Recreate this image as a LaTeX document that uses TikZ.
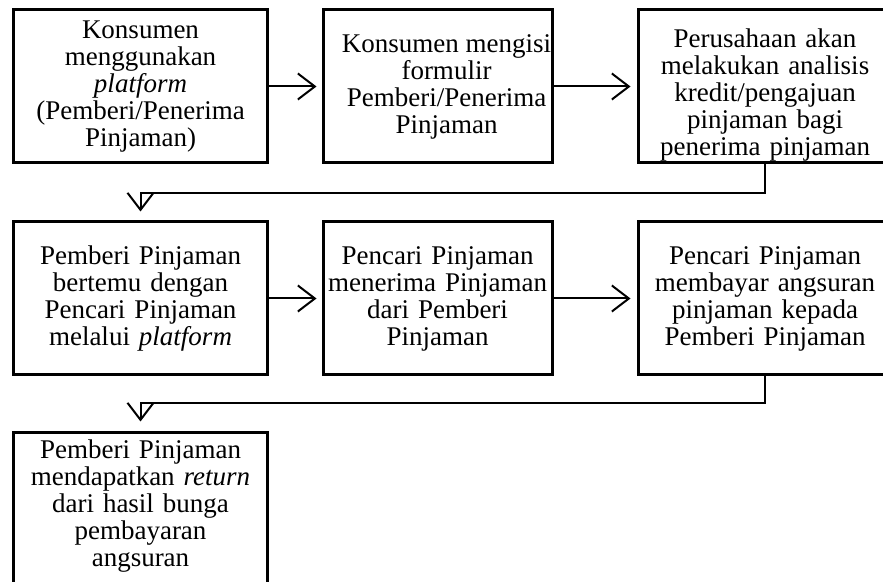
\documentclass[tikz,border=0pt]{standalone}
\usepackage{fontspec}
\setmainfont{Liberation Serif}
\usepackage{tikz}
\usetikzlibrary{positioning}
\usetikzlibrary{shapes,arrows.meta}
\tikzstyle{box} = [draw, line width=1.5pt, rectangle, inner xsep=0pt, inner ysep=0pt, align=center, minimum height=76.5pt, font=\fontsize{13.5}{13.5}\selectfont]
\tikzstyle{wide} = [box, text width=127pt]
\tikzstyle{narrow} = [box, text width=114.5pt]
\tikzstyle{line} = [draw, line width=1pt, -{Straight Barb[length=8.5pt, width=13pt, line width=1pt]}]

\begin{document}
\begin{tikzpicture}[x=0.5pt, y=-0.5pt]
\useasboundingbox (0, 0) rectangle (883, 582);
\clip (0, 0) rectangle (883, 582);
\node at (140.5, 86.5) [wide] (konsumen) {Konsumen\\ menggunakan\\ \textit{platform}\\ (Pemberi/Penerima\\ Pinjaman)};
\node at (437.5, 86.5) [box, minimum width=114.5pt] (formulir) {\hspace*{9pt}Konsumen mengisi\\ \hspace*{9pt}formulir\\ \hspace*{9pt}Pemberi/Penerima\\ \hspace*{9pt}Pinjaman};
\node at (765, 86.5) [wide, text depth=48pt] (analisis) {Perusahaan akan\\ melakukan analisis\\ kredit/pengajuan\\ pinjaman bagi\\ penerima pinjaman};
\path [line, shorten >=2.5pt] (konsumen) -- (formulir);
\path [line, shorten >=3pt] (formulir) -- (analisis);

\node at (140.5, 298.5) [wide] (bertemu) {Pemberi Pinjaman\\ bertemu dengan\\ Pencari Pinjaman\\ melalui \textit{platform}};
\node at (437.5, 298.5) [narrow] (menerima) {Pencari Pinjaman\\ menerima Pinjaman\\ dari Pemberi\\ Pinjaman};
\node at (765, 298.5) [wide] (angsuran) {Pencari Pinjaman\\ membayar angsuran\\ pinjaman kepada\\ Pemberi Pinjaman};
\coordinate (m1) at (765, 193);
\path [line, shorten >=4.5pt] (analisis.south) -- (m1) -| (bertemu.north);
\path [line, shorten >=2.5pt] (bertemu) -- (menerima);
\path [line, shorten >=3pt] (menerima) -- (angsuran);

\node at (140.5, 512) [wide, minimum height=80pt, text depth=63pt] (return) {Pemberi Pinjaman\\ mendapatkan \textit{return}\\ dari hasil bunga\\ pembayaran\\ angsuran};
\coordinate (m2) at (765, 403);
\path [line, shorten >=4.5pt] (angsuran.south) -- (m2) -| (return.north);
\end{tikzpicture}
\end{document}
